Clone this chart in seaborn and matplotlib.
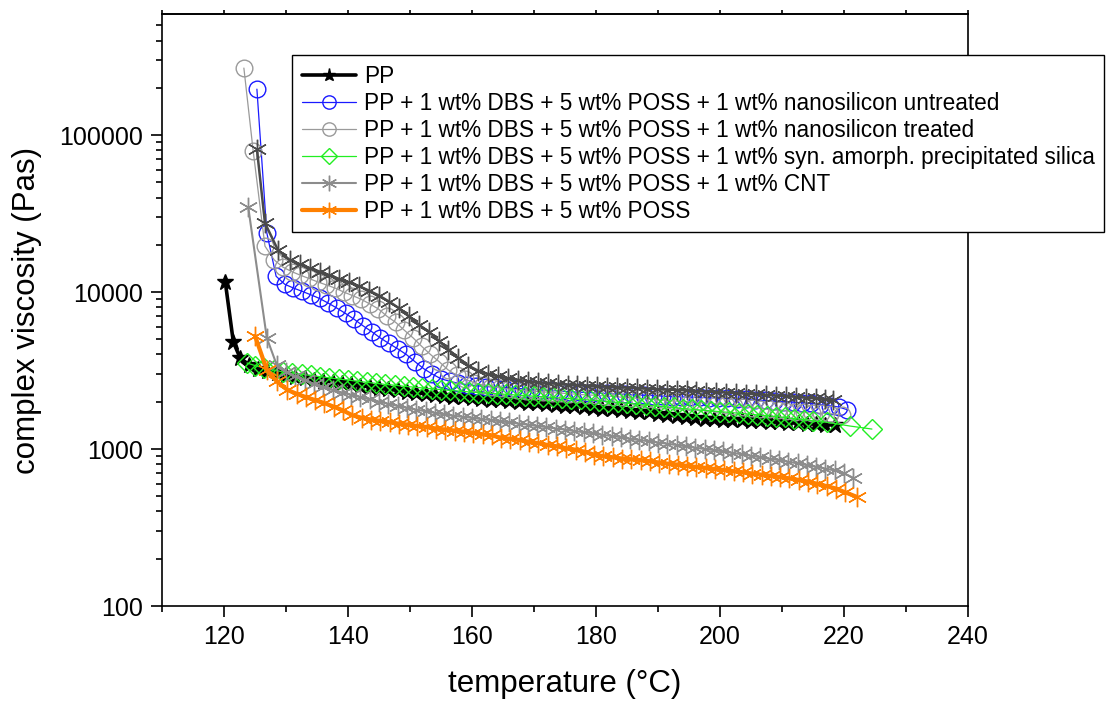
import numpy as np
import pandas as pd
import matplotlib
matplotlib.use("Agg")
import matplotlib.pyplot as plt
import seaborn as sns
from matplotlib.ticker import FixedLocator, NullFormatter, FuncFormatter, LogLocator, NullLocator

# ---------------- data ----------------
labels = [
    "PP",
    "PP + 1 wt% DBS + 5 wt% POSS + 1 wt% nanosilicon untreated",
    "PP + 1 wt% DBS + 5 wt% POSS + 1 wt% nanosilicon treated",
    "PP + 1 wt% DBS + 5 wt% POSS + 1 wt% syn. amorph. precipitated silica",
    "PP + 1 wt% DBS + 5 wt% POSS + 1 wt% CNT",
    "PP + 1 wt% DBS + 5 wt% POSS",
]

pp_t = [120.2, 121.5, 122.6, 124, 125.5, 127, 128.5, 130, 131.5, 133, 134.5, 136, 137.5, 139, 140.5,
        142, 143.5, 145, 146.5, 148, 149.5, 151, 152.5, 154, 155.5, 157, 158.5, 160, 161.5, 163,
        164.5, 166, 167.5, 169, 170.5, 172, 173.5, 175, 176.5, 178, 179.5, 181, 182.5, 184, 185.5,
        187, 188.5, 190, 191.5, 193, 194.5, 196, 197.5, 199, 200.5, 202, 203.5, 205, 206.5, 208,
        209.5, 211, 212.5, 214, 215.5, 217, 218.5]
pp_v = [11600, 4800, 3800, 3450, 3250, 3130, 3030, 2950, 2890, 2830, 2770, 2720, 2670, 2620, 2580,
        2530, 2490, 2440, 2400, 2360, 2320, 2280, 2250, 2220, 2190, 2160, 2130, 2100, 2080, 2060,
        2040, 2010, 1990, 1970, 1950, 1930, 1910, 1890, 1870, 1850, 1830, 1810, 1790, 1770, 1750,
        1730, 1710, 1680, 1650, 1620, 1590, 1570, 1560, 1550, 1540, 1530, 1520, 1510, 1500, 1490,
        1480, 1470, 1460, 1450, 1440, 1430, 1420]

untr_t = [125.3, 126.9, 128.4, 129.8, 131.2, 132.6, 134, 135.4, 136.8, 138.2, 139.6, 141, 142.4,
          143.8, 145.2, 146.6, 148, 149.4, 150.8, 152.2, 153.6, 155, 156.4, 157.8, 159.2, 160.7,
          162.2, 163.7, 165.2, 166.7, 168.2, 169.7, 171.2, 172.7, 174.2, 175.7, 177.2, 178.7, 180.2,
          181.7, 183.2, 184.7, 186.2, 187.7, 189.2, 190.7, 192.2, 193.7, 195.2, 196.7, 198.2, 199.7,
          201.2, 202.7, 204.2, 205.7, 207.2, 208.7, 210.2, 211.7, 213.2, 214.7, 216.2, 217.7, 219.2,
          220.5]
untr_v = [196000, 23800, 12600, 11200, 10600, 10100, 9600, 9100, 8500, 7900, 7300, 6700, 6100,
          5600, 5100, 4700, 4350, 4000, 3600, 3250, 3000, 2800, 2700, 2620, 2570, 2530,
          2500, 2480, 2460, 2440, 2420, 2400, 2380, 2360, 2340, 2320, 2300, 2290, 2270,
          2260, 2240, 2230, 2210, 2200, 2190, 2170, 2160, 2150, 2140, 2130, 2120, 2110,
          2100, 2080, 2070, 2050, 2040, 2020, 2000, 1990, 1970, 1950, 1920, 1890, 1850,
          1780]

trt_t = [123.2, 124.7, 126.6, 128.1, 129.5, 130.9, 132.3, 133.7, 135.1, 136.5, 137.9, 139.3, 140.7,
         142.1, 143.5, 144.9, 146.3, 147.7, 149.1, 150.5, 151.9, 153.3, 154.7, 156.1, 157.5, 158.9,
         160.3, 161.7, 163.1, 164.5, 165.9, 167.3, 168.7, 170.1, 171.5, 172.9, 174.3, 175.7, 177.1,
         178.5, 179.9, 181.3, 182.7, 184.1, 185.5, 186.9, 188.3, 189.7, 191.1, 192.5, 193.9, 195.3,
         196.7, 198.1, 199.5, 200.9, 202.3, 203.7, 205.1, 206.5, 207.9, 209.3, 210.7, 212.1, 213.5,
         214.9, 216.3, 217.7, 219.7]
trt_v = [267000, 79100, 19600, 16000, 14400, 13500, 12800, 12200, 11600, 11100, 10600, 10000, 9500,
         9000, 8400, 7800, 7000, 6400, 5700, 5100, 4500, 4000, 3600, 3200, 2950, 2780,
         2650, 2560, 2500, 2450, 2410, 2380, 2350, 2330, 2310, 2290, 2270, 2250, 2230,
         2210, 2200, 2180, 2160, 2140, 2120, 2100, 2080, 2060, 2040, 2020, 2010, 2000,
         1980, 1960, 1940, 1920, 1890, 1860, 1830, 1810, 1790, 1770, 1750, 1730, 1710,
         1700, 1690, 1680, 1650]

sil_t = [123.7, 125, 126.5, 128, 129.5, 131, 132.5, 134, 135.5, 137, 138.5, 140, 141.5, 143, 144.5,
         146, 147.5, 149, 150.5, 152, 153.5, 155, 156.5, 158, 159.5, 161, 162.5, 164, 165.5, 167,
         168.5, 170, 171.5, 173, 174.5, 176, 177.5, 179, 180.5, 182, 183.5, 185, 186.5, 188, 189.5,
         191, 192.5, 194, 195.5, 197, 198.5, 200, 201.5, 203, 204.5, 206, 207.5, 209, 210.5, 212,
         213.5, 215, 217.2, 221, 224.5]
sil_v = [3530, 3400, 3280, 3180, 3100, 3040, 2990, 2940, 2890, 2840, 2790, 2750, 2700, 2660, 2620,
         2580, 2550, 2510, 2480, 2450, 2420, 2390, 2360, 2340, 2310, 2290, 2270, 2250, 2230, 2210,
         2190, 2170, 2150, 2130, 2110, 2090, 2070, 2050, 2030, 2000, 1980, 1960, 1930, 1910, 1880,
         1860, 1840, 1810, 1790, 1770, 1750, 1730, 1710, 1690, 1670, 1650, 1630, 1610, 1590, 1560,
         1540, 1510, 1480, 1400, 1340]

cnt_t = [123.9, 126.9, 128.5, 130, 131.5, 133, 134.5, 136, 137.5, 139, 140.5, 142, 143.5, 145, 146.5,
         148, 149.5, 151, 152.5, 154, 155.5, 157, 158.5, 160, 161.5, 163, 164.5, 166, 167.5, 169,
         170.5, 172, 173.5, 175, 176.5, 178, 179.5, 181, 182.5, 184, 185.5, 187, 188.5, 190, 191.5,
         193, 194.5, 196, 197.5, 199, 200.5, 202, 203.5, 205, 206.5, 208, 209.5, 211, 212.5, 214,
         215.5, 217, 218.5, 220, 221.5]
cnt_v = [34800, 5100, 3430, 3100, 2900, 2740, 2600, 2480, 2380, 2290, 2210, 2140, 2070, 2000, 1940,
         1880, 1830, 1780, 1740, 1700, 1660, 1630, 1600, 1580, 1550, 1530, 1500, 1480, 1450, 1430,
         1400, 1380, 1350, 1330, 1300, 1280, 1260, 1230, 1210, 1190, 1160, 1140, 1120, 1100, 1080,
         1060, 1040, 1020, 1000, 985, 965, 945, 925, 905, 885, 865, 850, 830, 810, 790,
         770, 750, 730, 700, 655]

poss_t = [125, 126.9, 128.5, 130.2, 131.7, 133.2, 134.7, 136.2, 137.7, 139.2, 140.7, 142.2, 143.7,
          145.2, 146.7, 148.2, 149.7, 151.2, 152.7, 154.2, 155.7, 157.2, 158.7, 160.2, 161.7, 163.2,
          164.7, 166.2, 167.7, 169.2, 170.7, 172.2, 173.7, 175.2, 176.7, 178.2, 179.7, 181.2, 182.7,
          184.2, 185.7, 187.2, 188.7, 190.2, 191.7, 193.2, 194.7, 196.2, 197.7, 199.2, 200.7, 202.2,
          203.7, 205.2, 206.7, 208.2, 209.7, 211.2, 212.7, 214.2, 215.7, 217.2, 218.7, 220.2, 222.1]
poss_v = [5250, 3190, 2700, 2380, 2250, 2140, 2050, 1960, 1860, 1760, 1640, 1580, 1540,
          1510, 1480, 1450, 1430, 1400, 1380, 1350, 1330, 1310, 1290, 1270, 1240, 1220,
          1180, 1160, 1140, 1110, 1090, 1060, 1040, 1010, 990, 960, 920, 900, 885,
          870, 860, 850, 835, 820, 805, 795, 780, 768, 758, 745, 735, 722,
          710, 698, 686, 674, 663, 650, 635, 620, 600, 580, 560, 530, 495]

# unlabelled dark grey asterisk series (not in legend)
dark_t = [125.3, 126.6, 128.7, 130.6, 132.2, 133.8, 135.4, 137, 138.6, 140.2, 141.8, 143.4, 145,
          146.6, 148.2, 149.8, 151.4, 153, 154.6, 156.2, 157.8, 159.4, 161, 162.6, 164.2, 165.8,
          167.4, 169, 170.6, 172.2, 173.8, 175.4, 177, 178.6, 180.2, 181.8, 183.4, 185, 186.6,
          188.2, 189.8, 191.4, 193, 194.6, 196.2, 197.8, 199.4, 201, 202.6, 204.2, 205.8, 207.4,
          209, 210.6, 212.2, 213.8, 215.4, 217, 218.2]
dark_v = [81500, 27500, 18500, 16000, 15000, 14200, 13500, 12800, 12100, 11500, 10900, 10200, 9500,
          8700, 7900, 7000, 6200, 5600, 4900, 4300, 3800, 3400, 3150, 3000, 2900, 2820,
          2760, 2700, 2660, 2630, 2600, 2570, 2550, 2530, 2510, 2490, 2470, 2460, 2440,
          2420, 2400, 2390, 2380, 2360, 2340, 2320, 2300, 2290, 2270, 2250, 2230, 2210,
          2190, 2170, 2150, 2120, 2100, 2070, 2050]

y_ticks = [100, 1000, 10000, 100000]
x_ticks = [120, 140, 160, 180, 200, 220, 240]
x_minor = [110, 130, 150, 170, 190, 210, 230]

# ---------------- style ----------------
sns.set_style("ticks")
plt.rcParams["font.family"] = ["Liberation Sans", "DejaVu Sans"]
for k in ["text.color", "axes.labelcolor", "xtick.color", "ytick.color", "axes.edgecolor"]:
    plt.rcParams[k] = "black"

fig = plt.figure(figsize=(11.16, 7.04), dpi=100)
ax = fig.add_axes([0.1452, 0.1392, 0.7222, 0.8409])

asterisk = (6, 2, 0)

def draw(t, v, color, marker, lw, ms, mfc, mew, z):
    df = pd.DataFrame({"T": t, "eta": v})
    sns.lineplot(data=df, x="T", y="eta", ax=ax, color=color, marker=marker, lw=lw,
                 markersize=ms, markerfacecolor=mfc, markeredgecolor=color, markeredgewidth=mew,
                 estimator=None, sort=False, zorder=z, legend=False)
    return ax.lines[-1]

h_pp = draw(pp_t, pp_v, "#000000", "*", 2.6, 12, "#000000", 1.0, 2)
h_un = draw(untr_t, untr_v, "#1a1aff", "o", 0.9, 12, "none", 1.0, 3)
h_tr = draw(trt_t, trt_v, "#9a9a9a", "o", 0.9, 12, "none", 1.0, 4)
h_si = draw(sil_t, sil_v, "#22ee22", "D", 0.9, 10, "none", 1.0, 5)
h_dk = draw(dark_t, dark_v, "#4a4a4a", asterisk, 1.8, 14, "none", 1.0, 6)
h_cn = draw(cnt_t, cnt_v, "#8c8c8c", asterisk, 1.5, 14, "none", 1.0, 7)
h_po = draw(poss_t, poss_v, "#ff8000", asterisk, 3.0, 14, "none", 1.0, 8)

ax.set_yscale("log")
ax.set_xlim(110, 240)
ax.set_ylim(100, 590000)

ax.xaxis.set_major_locator(FixedLocator(x_ticks))
ax.xaxis.set_minor_locator(FixedLocator(x_minor))
ax.yaxis.set_major_locator(FixedLocator(y_ticks))
ax.yaxis.set_major_formatter(FuncFormatter(lambda v, p: f"{int(round(v))}"))
ax.yaxis.set_minor_locator(LogLocator(base=10, subs=np.arange(2, 10), numticks=20))
ax.yaxis.set_minor_formatter(NullFormatter())

ax.tick_params(axis="both", which="major", direction="out", length=8, width=1.2,
               labelsize=18, pad=6, colors="black")
ax.tick_params(axis="both", which="minor", direction="out", length=4.5, width=1.2)
ax.tick_params(axis="x", which="both", top=False)
ax.tick_params(axis="y", which="both", right=False)
for s in ax.spines.values():
    s.set_visible(True)
    s.set_color("black")
    s.set_linewidth(1.2)

# small ticks along the top frame
sec = ax.secondary_xaxis("top")
sec.xaxis.set_major_locator(FixedLocator(x_ticks + x_minor))
sec.xaxis.set_minor_locator(NullLocator())
sec.tick_params(axis="x", which="major", direction="out", length=3, width=1.2, labeltop=False)
sec.spines["top"].set_linewidth(1.2)

ax.set_xlabel("temperature (°C)", fontsize=22.5, labelpad=14, color="black")
ax.set_ylabel("complex viscosity (Pas)", fontsize=22.5, labelpad=12, color="black")

leg = ax.legend([h_pp, h_un, h_tr, h_si, h_cn, h_po], labels,
                loc="upper left", bbox_to_anchor=(292 / 1116, 1 - 55 / 704),
                bbox_transform=fig.transFigure, borderaxespad=0, fontsize=16.3,
                frameon=True, fancybox=False, edgecolor="black", framealpha=1,
                handlelength=2.4, handletextpad=0.35, labelspacing=0.18,
                borderpad=0.42, markerscale=0.8)
leg.get_frame().set_linewidth(1.0)
leg.set_zorder(20)
for txt in leg.get_texts():
    txt.set_color("black")

fig.savefig("out.png", dpi=100)
